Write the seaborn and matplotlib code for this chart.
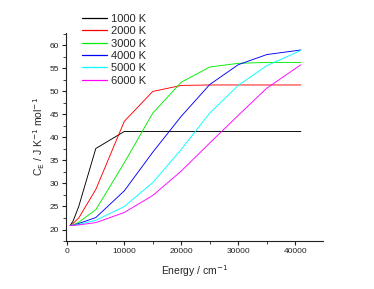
import pandas as pd
import numpy as np
import matplotlib
matplotlib.use('Agg')
import matplotlib.pyplot as plt
import matplotlib.ticker as mticker
from matplotlib.lines import Line2D
import seaborn as sns

# Energias (cm^-1) em que as curvas foram amostradas
energia = [500, 1000, 2000, 5000, 10000, 15000, 20000, 25000, 30000, 35000, 41000]

cp_1000 = [20.9, 21.8, 25.0, 37.6, 41.3, 41.3, 41.3, 41.3, 41.3, 41.3, 41.3]
cp_2000 = [20.9, 21.3, 22.5, 28.7, 43.5, 50.0, 51.3, 51.4, 51.4, 51.4, 51.4]
cp_3000 = [20.9, 21.0, 21.6, 24.3, 34.5, 45.3, 52.0, 55.3, 56.1, 56.3, 56.3]
cp_4000 = [20.9, 20.9, 21.3, 22.6, 28.4, 36.8, 44.6, 51.5, 55.8, 58.0, 59.0]
cp_5000 = [20.9, 20.9, 21.1, 22.0, 25.0, 30.2, 37.4, 45.3, 51.3, 55.6, 58.9]
cp_6000 = [20.9, 20.9, 21.0, 21.5, 23.7, 27.4, 32.7, 38.8, 44.8, 50.7, 55.8]

temperaturas = ['1000 K', '2000 K', '3000 K', '4000 K', '5000 K', '6000 K']
series = [cp_1000, cp_2000, cp_3000, cp_4000, cp_5000, cp_6000]
cores = ['#000000', '#FF0000', '#00EE00', '#0000FF', '#00FFFF', '#FF00FF']

df = pd.concat([pd.DataFrame({'energia': energia, 'cp': s, 'T': t})
                for t, s in zip(temperaturas, series)], ignore_index=True)

sns.set_style('white')
plt.rcParams['font.family'] = ['Liberation Sans', 'DejaVu Sans']

fig = plt.figure(figsize=(3.74, 2.89), dpi=100)
ax = fig.add_axes([0.1765, 0.166, 0.686, 0.72])

sns.lineplot(data=df, x='energia', y='cp', hue='T', hue_order=temperaturas,
             palette=dict(zip(temperaturas, cores)), linewidth=0.65, ax=ax,
             legend=False)

ax.set_xlim(-230, 44800)
ax.set_ylim(17.5, 62.7)
ax.xaxis.set_major_locator(mticker.MultipleLocator(10000))
ax.xaxis.set_minor_locator(mticker.MultipleLocator(5000))
ax.yaxis.set_major_locator(mticker.MultipleLocator(5))
ax.yaxis.set_minor_locator(mticker.MultipleLocator(2.5))
ax.tick_params(which='major', direction='out', length=3, width=0.8,
               labelsize=6, colors='#222222', pad=2)
ax.tick_params(which='minor', direction='out', length=2, width=0.6, colors='#222222')
ax.tick_params(bottom=True, left=True, which='both')

for lado in ['top', 'right']:
    ax.spines[lado].set_visible(False)
for lado in ['left', 'bottom']:
    ax.spines[lado].set_color('#222222')
    ax.spines[lado].set_linewidth(0.8)

ax.set_xlabel('Energy / cm$^{-1}$', fontsize=7.5, labelpad=6)
ax.set_ylabel(r'C$_{\mathrm{E}}$ / J K$^{-1}$ mol$^{-1}$', fontsize=7.5, labelpad=2)

handles = [Line2D([], [], color=c, linewidth=0.9) for c in cores]
fig.legend(handles, temperaturas, loc='upper left',
           bbox_to_anchor=(0.218, 0.952), frameon=False, fontsize=8,
           handlelength=2.3, handletextpad=0.35, labelspacing=0.21,
           borderaxespad=0, borderpad=0)

fig.savefig('out.png', dpi=100)
